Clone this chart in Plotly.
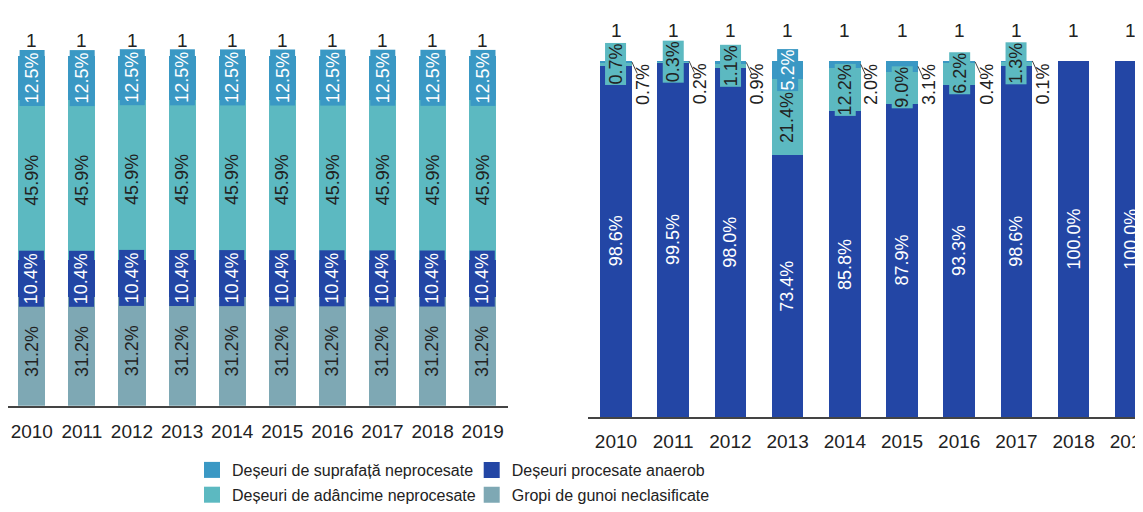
import plotly.graph_objects as go

# ---------------- data ----------------
YEARS = ["2010", "2011", "2012", "2013", "2014", "2015", "2016", "2017", "2018", "2019"]

# left chart (percent)
L_GROPI = [31.2, 31.2, 31.2, 31.2, 31.2, 31.2, 31.2, 31.2, 31.2, 31.2]
L_ANAEROB = [10.4, 10.4, 10.4, 10.4, 10.4, 10.4, 10.4, 10.4, 10.4, 10.4]
L_ADANCIME = [45.9, 45.9, 45.9, 45.9, 45.9, 45.9, 45.9, 45.9, 45.9, 45.9]
L_SUPRAFATA = [12.5, 12.5, 12.5, 12.5, 12.5, 12.5, 12.5, 12.5, 12.5, 12.5]

# right chart (percent)
R_ANAEROB = [98.6, 99.5, 98.0, 73.4, 85.8, 87.9, 93.3, 98.6, 100.0, 100.0]
R_ADANCIME = [0.7, 0.3, 1.1, 21.4, 12.2, 9.0, 6.2, 1.3, 0.0, 0.0]
R_SUPRAFATA = [0.7, 0.2, 0.9, 5.2, 2.0, 3.1, 0.4, 0.1, 0.0, 0.0]

TOTAL_LABELS = ["1", "1", "1", "1", "1", "1", "1", "1", "1", "1"]

NAMES = {
    "supr": "Deșeuri de suprafață neprocesate",
    "adan": "Deșeuri de adâncime neprocesate",
    "anae": "Deșeuri procesate anaerob",
    "grop": "Gropi de gunoi neclasificate",
}

# ---------------- styles ----------------
COL = {
    "supr": "#3A98C4",
    "adan": "#5CB9C1",
    "anae": "#2346A5",
    "grop": "#7EA8B4",
}
DARK = "#222222"
FONT = "Liberation Sans, Arial, sans-serif"
FS = 18      # bar labels
FT = 19      # tick labels / totals
LW = 0.54    # left bar width (category units)
RW = 0.555   # right bar width

fig = go.Figure()
idx = list(range(len(YEARS)))

# left stacked bars (bottom -> top)
left_stack = [("grop", L_GROPI), ("anae", L_ANAEROB), ("adan", L_ADANCIME), ("supr", L_SUPRAFATA)]
for key, vals in left_stack:
    fig.add_trace(go.Bar(x=idx, y=[v / 100 for v in vals], width=LW, marker_color=COL[key],
                         marker_line_width=0, showlegend=False, xaxis="x", yaxis="y",
                         hoverinfo="skip"))

right_stack = [("anae", R_ANAEROB), ("adan", R_ADANCIME), ("supr", R_SUPRAFATA)]
for key, vals in right_stack:
    fig.add_trace(go.Bar(x=idx, y=[v / 100 for v in vals], width=RW, marker_color=COL[key],
                         marker_line_width=0, showlegend=False, xaxis="x2", yaxis="y2",
                         hoverinfo="skip"))

# legend entries (two legends = two columns)
leg_items = [("supr", "legend"), ("adan", "legend"), ("anae", "legend2"), ("grop", "legend2")]
for key, lg in leg_items:
    fig.add_trace(go.Scatter(x=[None], y=[None], mode="markers", name=NAMES[key],
                             marker=dict(symbol="square", size=18, color=COL[key]),
                             legend=lg, legendgroup=key, showlegend=True,
                             xaxis="x", yaxis="y"))

ann = []

def seg_label(xr, yr, x, y, text, color, bg=None, pad=1):
    d = dict(xref=xr, yref=yr, x=x, y=y, text=text, showarrow=False, textangle=-90,
             font=dict(family=FONT, size=FS, color=color), xanchor="center", yanchor="middle")
    if bg:
        d.update(bgcolor=bg, borderpad=pad)
    ann.append(d)

# left labels
for i in idx:
    cum = 0.0
    for key, vals in left_stack:
        v = vals[i]
        mid = (cum + v / 2) / 100
        if key in ("anae", "supr"):
            seg_label("x", "y", i, mid, f"{v:.1f}%", "white", COL[key], pad=2)
        else:
            seg_label("x", "y", i, mid, f"{v:.1f}%", DARK)
        cum += v
    ann.append(dict(xref="x", yref="y", x=i, y=sum(vals[i] for _, vals in left_stack) / 100,
                    text=TOTAL_LABELS[i], showarrow=False, yanchor="bottom", yshift=3,
                    font=dict(family=FONT, size=FT, color=DARK)))

# right labels
for i in idx:
    cum = 0.0
    for key, vals in right_stack:
        v = vals[i]
        if v <= 0:
            continue
        mid = (cum + v / 2) / 100
        txt = f"{v:.1f}%"
        if key == "anae":
            seg_label("x2", "y2", i, mid, txt, "white")
        elif key == "adan":
            if v >= 15:
                seg_label("x2", "y2", i, mid, txt, DARK)
            else:
                seg_label("x2", "y2", i, mid, txt, DARK, COL["adan"], pad=0)
        else:
            if v >= 5:
                seg_label("x2", "y2", i, mid, txt, "white", COL["supr"], pad=0)
            else:
                top = (cum + v) / 100
                ann.append(dict(xref="x2", yref="y2", x=i + RW / 2, y=top, text=txt,
                                showarrow=False, textangle=-90, xanchor="left", yanchor="top",
                                xshift=-1, yshift=-1,
                                font=dict(family=FONT, size=FS, color=DARK)))
                ann.append(dict(xref="x2", yref="y2", x=i + RW / 2, y=mid, text="",
                                showarrow=True, arrowhead=0, arrowwidth=1, arrowcolor="#444",
                                ax=6, ay=13, standoff=0, startstandoff=0))
        cum += v
    ann.append(dict(xref="x2", yref="y2", x=i, y=sum(vals[i] for _, vals in right_stack) / 100,
                    text=TOTAL_LABELS[i], showarrow=False, yanchor="bottom", yshift=18,
                    font=dict(family=FONT, size=FT, color=DARK)))

# figure sits 8px in from the page corner (default body margin)
W, H = 1135, 504
axis_common = dict(type="linear", showgrid=False, zeroline=False, showline=True,
                   linecolor="#444", linewidth=1.5, ticks="", tickmode="array",
                   tickvals=idx, ticktext=YEARS, ticklabeloverflow="allow",
                   tickfont=dict(family=FONT, size=FT, color=DARK), fixedrange=True)

fig.update_layout(
    width=W, height=H, template="none",
    margin=dict(l=0, r=0, t=0, b=0),
    paper_bgcolor="white", plot_bgcolor="white",
    barmode="stack",
    font=dict(family=FONT, size=16, color=DARK),
    xaxis=dict(domain=[0, 500 / W], range=[-0.475, 9.505], anchor="y",
               ticklabelstandoff=8, **axis_common),
    xaxis2=dict(domain=[579.7 / W, 1.0], range=[-0.495, 9.213], anchor="y2",
                ticklabelstandoff=6, **axis_common),
    yaxis=dict(domain=[(H - 407.5) / H, (H - 49) / H], range=[0, 1], visible=False, fixedrange=True),
    yaxis2=dict(domain=[(H - 419) / H, (H - 54) / H], range=[0, 1], visible=False, fixedrange=True),
    legend=dict(x=184 / W, y=1 - 456 / H, xanchor="left", yanchor="top", orientation="v",
                bgcolor="rgba(0,0,0,0)", font=dict(family=FONT, size=16, color=DARK),
                tracegroupgap=1, itemsizing="trace"),
    legend2=dict(x=463.7 / W, y=1 - 456 / H, xanchor="left", yanchor="top", orientation="v",
                 bgcolor="rgba(0,0,0,0)", font=dict(family=FONT, size=16, color=DARK),
                 tracegroupgap=1, itemsizing="trace"),
    annotations=ann,
)

fig.write_html("out.html")
